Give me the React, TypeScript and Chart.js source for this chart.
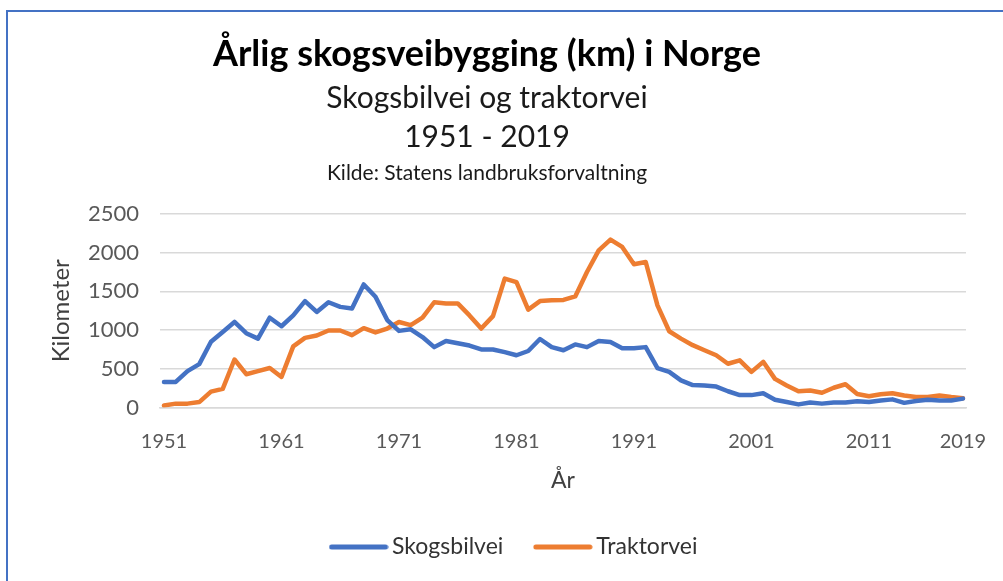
import React, { useEffect, useRef } from "react";
import { Chart, registerables } from "chart.js";

Chart.register(...registerables);

const years = [
  1951, 1952, 1953, 1954, 1955, 1956, 1957, 1958, 1959, 1960,
  1961, 1962, 1963, 1964, 1965, 1966, 1967, 1968, 1969, 1970,
  1971, 1972, 1973, 1974, 1975, 1976, 1977, 1978, 1979, 1980,
  1981, 1982, 1983, 1984, 1985, 1986, 1987, 1988, 1989, 1990,
  1991, 1992, 1993, 1994, 1995, 1996, 1997, 1998, 1999, 2000,
  2001, 2002, 2003, 2004, 2005, 2006, 2007, 2008, 2009, 2010,
  2011, 2012, 2013, 2014, 2015, 2016, 2017, 2018, 2019,
];

const tickYears = [1951, 1961, 1971, 1981, 1991, 2001, 2011, 2019];
const yTicks = [0, 500, 1000, 1500, 2000, 2500];

const skogsbilvei = [
  330, 330, 470, 560, 850, 975, 1105, 960, 890, 1160,
  1050, 1190, 1375, 1235, 1360, 1300, 1280, 1590, 1430, 1130,
  990, 1010, 910, 780, 860, 830, 800, 750, 750, 715,
  675, 730, 885, 780, 740, 815, 780, 860, 845, 765,
  765, 780, 510, 460, 350, 290, 285, 270, 210, 160,
  160, 185, 100, 70, 40, 65, 50, 65, 65, 80,
  70, 90, 105, 60, 85, 100, 90, 90, 115,
];

const traktorvei = [
  25, 50, 50, 70, 205, 240, 620, 430, 470, 510,
  395, 790, 900, 930, 995, 995, 935, 1025, 970, 1020,
  1105, 1065, 1160, 1360, 1345, 1345, 1190, 1020, 1180, 1665,
  1620, 1265, 1375, 1385, 1390, 1435, 1750, 2030, 2170, 2075,
  1850, 1880, 1320, 985, 890, 805, 740, 675, 565, 610,
  460, 590, 370, 285, 210, 220, 190, 255, 300, 175,
  145, 170, 185, 155, 135, 135, 155, 135, 120,
];

const seriesNames = ["Skogsbilvei", "Traktorvei"];
const seriesColors = ["#4472C4", "#ED7D31"];

const titleText = "Årlig skogsveibygging (km) i Norge";
const subtitleLines = ["Skogsbilvei og traktorvei", "1951 - 2019"];
const sourceText = "Kilde: Statens landbruksforvaltning";
const yTitle = "Kilometer";
const xTitle = "År";

const FONT = "Lato, 'Noto Sans', sans-serif";
const LEGEND_FONT_SIZE = 23;
const LEGEND_PADDING = 37.5;

const headerPlugin = {
  id: "header",
  afterDraw(chart: any) {
    const ctx = chart.ctx;
    ctx.save();
    ctx.textAlign = "center";
    ctx.textBaseline = "alphabetic";
    const cx = 487;
    ctx.fillStyle = "#000000";
    ctx.font = `bold 36px ${FONT}`;
    ctx.fillText(titleText, cx, 66);
    ctx.fillStyle = "#1a1a1a";
    ctx.font = `30px ${FONT}`;
    ctx.fillText(subtitleLines[0], cx, 108);
    ctx.fillText(subtitleLines[1], cx, 147);
    ctx.font = `21px ${FONT}`;
    ctx.fillText(sourceText, cx, 180);
    ctx.restore();
  },
};

const legendShift = {
  id: "legendShift",
  afterLayout(chart: any) {
    const lg = chart.legend;
    if (!lg) return;
    const dx = 517 - (lg.left + lg.right) / 2;
    lg.left += dx;
    lg.right += dx;
    const dy = 547 - (lg.top + LEGEND_PADDING + LEGEND_FONT_SIZE / 2);
    lg.top += dy;
    lg.bottom += dy;
  },
};

function makeLegendLine(color: string): HTMLCanvasElement {
  const c = document.createElement("canvas");
  c.width = 60;
  c.height = 8;
  const g = c.getContext("2d");
  if (g) {
    g.strokeStyle = color;
    g.lineWidth = 5;
    g.lineCap = "round";
    g.beginPath();
    g.moveTo(3, 4);
    g.lineTo(57, 4);
    g.stroke();
  }
  return c;
}

export default function App() {
  const ref = useRef<HTMLCanvasElement | null>(null);

  useEffect(() => {
    if (!ref.current) return;
    const chart = new Chart(ref.current, {
      type: "line",
      data: {
        datasets: [
          {
            label: seriesNames[0],
            data: years.map((yr, i) => ({ x: yr, y: skogsbilvei[i] })),
            borderColor: seriesColors[0],
            backgroundColor: seriesColors[0],
            borderWidth: 4.5,
            pointRadius: 0,
            pointStyle: makeLegendLine(seriesColors[0]),
            borderCapStyle: "round",
            borderJoinStyle: "round",
            tension: 0,
          },
          {
            label: seriesNames[1],
            data: years.map((yr, i) => ({ x: yr, y: traktorvei[i] })),
            borderColor: seriesColors[1],
            backgroundColor: seriesColors[1],
            borderWidth: 4.5,
            pointRadius: 0,
            pointStyle: makeLegendLine(seriesColors[1]),
            borderCapStyle: "round",
            borderJoinStyle: "round",
            tension: 0,
          },
        ],
      },
      options: {
        animation: false,
        responsive: false,
        maintainAspectRatio: false,
        layout: { padding: { left: 0, right: 37, top: 214, bottom: 2 } },
        plugins: {
          title: { display: false },
          tooltip: { enabled: false },
          legend: {
            display: true,
            position: "bottom",
            labels: {
              usePointStyle: true,
              pointStyleWidth: 44,
              padding: LEGEND_PADDING,
              color: "#333333",
              font: { family: FONT, size: LEGEND_FONT_SIZE },
            },
          },
        },
        scales: {
          x: {
            type: "linear",
            min: 1950.66,
            max: 2019.26,
            grid: { display: false, drawTicks: false },
            border: { display: true, color: "#D9D9D9", width: 1.5 },
            afterBuildTicks: (scale: any) => {
              scale.ticks = tickYears.map((v) => ({ value: v }));
            },
            ticks: {
              autoSkip: false,
              maxRotation: 0,
              minRotation: 0,
              padding: 22,
              color: "#595959",
              font: { family: FONT, size: 20 },
              callback: (v: any) => String(v),
            },
            title: {
              display: true,
              text: xTitle,
              color: "#404040",
              font: { family: FONT, size: 23 },
              padding: { top: 14, bottom: 14 },
            },
            afterFit: (scale: any) => {
              scale.height = 101;
              scale.paddingLeft = 0;
              scale.paddingRight = 0;
            },
          },
          y: {
            min: 0,
            max: 2500,
            afterBuildTicks: (scale: any) => {
              scale.ticks = yTicks.map((v) => ({ value: v }));
            },
            ticks: {
              padding: 21,
              color: "#595959",
              font: { family: FONT, size: 22 },
              callback: (v: any) => String(v),
            },
            grid: { color: "#D9D9D9", lineWidth: 1.5, drawTicks: false },
            border: { display: false },
            title: {
              display: true,
              text: yTitle,
              color: "#404040",
              font: { family: FONT, size: 24 },
              padding: { top: 46.5, bottom: 0 },
            },
            afterFit: (scale: any) => {
              scale.width = 160;
            },
          },
        },
      },
      plugins: [headerPlugin, legendShift],
    });
    return () => chart.destroy();
  }, []);

  return (
    <div
      style={{
        position: "fixed",
        left: 0,
        top: 0,
        width: 1003,
        height: 581,
        background: "#ffffff",
        overflow: "hidden",
      }}
    >
      <canvas ref={ref} width={1003} height={581} style={{ position: "absolute", left: 0, top: 0 }} />
      <div
        style={{
          position: "absolute",
          left: 6,
          top: 10,
          width: 1003,
          height: 581,
          borderTop: "2px solid #4472C4",
          borderLeft: "2px solid #4472C4",
          pointerEvents: "none",
        }}
      />
    </div>
  );
}
